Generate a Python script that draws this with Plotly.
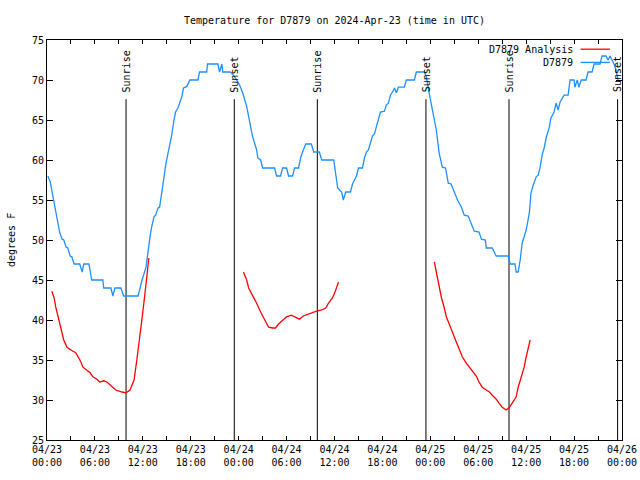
import pandas as pd
import plotly.graph_objects as go

# ---------------- data ----------------
base_time = "2024-04-23 00:00"

obs_hours = [0.1, 0.4, 0.6, 0.9, 1.1, 1.4, 1.6, 1.9, 2.1, 2.4, 2.6, 2.9, 3.1, 3.4, 4.1, 4.4, 4.6, 5.25,
             5.4, 5.6, 7.0, 7.1, 8.0, 8.25, 8.5, 9.25, 9.6, 11.4, 11.6, 11.9, 12.4, 12.6, 12.9, 13.1,
             13.4, 13.6, 13.9, 14.1, 14.4, 14.6, 14.9, 15.1, 15.4, 15.6, 15.9, 16.1, 16.4, 16.6, 16.9,
             17.1, 17.5, 17.9, 18.9, 19.1, 20.0, 20.1, 21.4, 21.6, 21.9, 22.0, 22.9, 23.1, 23.6, 24.1,
             24.5, 25.0, 25.4, 25.75, 26.25, 26.4, 26.75, 27.0, 28.5, 28.75, 29.25, 29.5, 30.0, 30.25,
             30.75, 31.0, 31.5, 31.75, 32.0, 32.4, 33.1, 33.4, 34.1, 34.4, 35.9, 36.1, 36.4, 36.9,
             37.1, 37.4, 38.0, 38.25, 38.75, 39.0, 39.5, 39.75, 40.0, 40.25, 40.5, 40.75, 41.0, 41.25,
             41.5, 41.75, 42.25, 42.5, 42.75, 43.0, 43.4, 43.5, 43.75, 43.9, 44.0, 44.75, 45.0, 46.0,
             46.25, 47.25, 47.5, 47.9, 48.25, 48.75, 49.1, 49.5, 49.9, 50.25, 50.6, 51.0, 51.4, 51.9,
             52.25, 52.75, 53.1, 53.5, 54.1, 54.4, 54.9, 55.0, 55.75, 56.25, 57.75, 58.0, 58.6, 58.75,
             59.0, 59.25, 59.5, 60.0, 60.4, 60.6, 60.9, 61.25, 61.5, 61.75, 62.0, 62.25, 62.5, 62.9,
             63.1, 63.5, 63.75, 64.0, 64.25, 64.75, 65.25, 65.5, 66.0, 66.1, 66.4, 66.6, 66.9, 67.5,
             67.75, 68.25, 68.5, 69.25, 69.5, 70.0, 70.25, 70.5, 70.75, 71.0, 71.25, 71.5]
obs_temps = [58, 57.3, 56.2, 54.6, 53.1, 51.9, 50.9, 50.1, 50, 49.1, 49, 48, 47.9, 47, 47, 46, 47, 47,
             46, 45, 45, 44, 44, 43, 44, 44, 43, 43, 43.75, 45, 46.6, 48.4, 50.4, 51.6,
             52.9, 53.1, 54, 54.1, 55.9, 57.5, 59.6, 60.5, 62, 63, 65, 66, 66.5, 67, 68,
             69, 69.2, 70, 70, 71, 71, 72, 72, 71, 72, 71, 71, 70.9, 70.25, 69.4,
             68.4, 66.7, 64.75, 62.9, 61.25, 60.25, 60, 59, 59, 58, 58, 59, 59, 58,
             58, 59, 59, 60.25, 61, 62, 62, 61, 61, 60, 60, 58.4, 56.5, 56,
             55, 56, 56, 57, 58, 59, 59, 60.25, 61, 61.25, 62.1, 63, 63.25, 64.1,
             65.25, 66, 66.1, 66.9, 67.1, 68.1, 68.75, 69, 68.4, 69, 69.1, 69.1, 70, 70,
             71, 71, 70.4, 68.1, 66.25, 63.75, 60.9, 59.1, 59, 57.1, 57, 55.9, 55, 54.1,
             53.1, 53, 52.1, 51.1, 51, 50.1, 50, 49, 49, 48, 48, 47, 47, 46,
             46, 47.5, 49.6, 51.25, 53.4, 55.9, 56.9, 57.9, 58.1, 59.1, 60.6, 61.5, 62.75, 64.1,
             65.25, 66, 67.1, 66.25, 67.25, 68.1, 68.1, 70, 70, 69.1, 70, 69.1, 70, 70,
             71, 71, 72, 72, 73, 73, 72.5, 73, 72.5, 72, 71.25, 70]

ana1_hours = [0.6, 0.9, 1.1, 1.4, 1.6, 1.9, 2.1, 2.5, 2.75, 3.25, 3.6, 3.9, 4.25, 4.5, 5.0, 5.4, 5.75,
              6.25, 6.6, 7.1, 7.5, 8.1, 8.6, 9.4, 9.9, 10.4, 10.9, 11.25, 11.6, 12.0, 12.4, 12.75]
ana1_temps = [43.6, 42.75, 41.6, 40.4, 39.4, 38.4, 37.5, 36.6, 36.4, 36.1, 35.9, 35.4, 34.75, 34.1,
              33.75, 33.4, 32.9, 32.6, 32.25, 32.4, 32.25, 31.75, 31.25, 31.0, 30.9, 31.25, 32.5, 35,
              37.6, 41, 44.5, 47.75]
ana2_hours = [24.6, 25.0, 25.25, 25.75, 26.25, 26.75, 27.25, 27.75, 28.25, 28.6, 29.0, 29.5, 30.0,
              30.6, 31.1, 31.6, 32.1, 32.75, 33.25, 33.75, 34.4, 34.9, 35.25, 35.75, 36.1, 36.5]
ana2_temps = [46, 45, 44, 43.1, 42.1, 41, 40, 39.1, 39, 39, 39.5, 40, 40.4, 40.6, 40.4, 40.1, 40.5,
              40.75, 40.9, 41.1, 41.25, 41.5, 42.1, 42.75, 43.6, 44.75]
ana3_hours = [48.5, 48.75, 49.0, 49.4, 49.75, 50.0, 50.4, 50.75, 51.25, 51.6, 52.0, 52.5, 52.9, 53.25,
              53.75, 54.1, 54.5, 55.0, 55.4, 55.75, 56.25, 56.6, 57.0, 57.5, 57.9, 58.25, 58.75, 59.0,
              59.4, 59.75, 60.0, 60.25, 60.5]
ana3_temps = [47.25, 45.9, 44.4, 42.75, 41.5, 40.4, 39.4, 38.4, 37.25, 36.4, 35.4, 34.6, 34.1, 33.75,
              33, 32.25, 31.6, 31.25, 31, 30.6, 30.1, 29.6, 29.1, 28.75, 29.1, 29.6, 30.4, 31.6,
              32.9, 34.1, 35.4, 36.6, 37.5]

sun_event_hours = [9.9, 23.45, 33.85, 47.45, 57.85, 71.45]
sun_event_labels = ["Sunrise", "Sunset", "Sunrise", "Sunset", "Sunrise", "Sunset"]

tick_hours = [0, 6, 12, 18, 24, 30, 36, 42, 48, 54, 60, 66, 72]
tick_labels = ["04/23<br>00:00", "04/23<br>06:00", "04/23<br>12:00", "04/23<br>18:00",
               "04/24<br>00:00", "04/24<br>06:00", "04/24<br>12:00", "04/24<br>18:00",
               "04/25<br>00:00", "04/25<br>06:00", "04/25<br>12:00", "04/25<br>18:00",
               "04/26<br>00:00"]

y_range = [25, 75]
series_names = ["D7879 Analysis", "D7879"]
series_colors = ["#ff0000", "#1e90ff"]

# ---------------- build ----------------
t0 = pd.Timestamp(base_time)


def to_time(hours):
    return [t0 + pd.Timedelta(hours=h) for h in hours]


ana_x, ana_y = [], []
for hs, ts in [(ana1_hours, ana1_temps), (ana2_hours, ana2_temps), (ana3_hours, ana3_temps)]:
    ana_x += to_time(hs) + [None]
    ana_y += list(ts) + [None]

FONT = "DejaVu Sans Mono"
FIG_W, FIG_H = 640, 480

fig = go.Figure()
fig.add_trace(go.Scatter(x=to_time(obs_hours), y=obs_temps, mode="lines", name=series_names[1],
                         line=dict(color=series_colors[1], width=1.3), showlegend=False))
fig.add_trace(go.Scatter(x=ana_x, y=ana_y, mode="lines", name=series_names[0], connectgaps=False,
                         line=dict(color=series_colors[0], width=1.3), showlegend=False))

shapes = []
annotations = []
line_top = 67.6
for h, lab in zip(sun_event_hours, sun_event_labels):
    xt = t0 + pd.Timedelta(hours=h)
    shapes.append(dict(type="line", xref="x", yref="y", x0=xt, x1=xt, y0=y_range[0], y1=line_top,
                       line=dict(color="black", width=1), layer="below"))
    annotations.append(dict(x=xt, y=68.2, xref="x", yref="y", text=lab, textangle=-90,
                            showarrow=False, xanchor="center", yanchor="bottom",
                            font=dict(family=FONT, size=10, color="black")))

# legend (gnuplot style: text then sample line on the right)
leg_y = [0.977, 0.944]
for name, col, ly in zip(series_names, series_colors, leg_y):
    annotations.append(dict(x=0.918, y=ly, xref="paper", yref="paper", text=name, showarrow=False,
                            xanchor="right", yanchor="middle",
                            font=dict(family=FONT, size=10, color="black")))
    shapes.append(dict(type="line", xref="paper", yref="paper", x0=0.928, x1=0.979, y0=ly, y1=ly,
                       line=dict(color=col, width=1.3)))

annotations.append(dict(x=-0.0626, y=0.5, xref="paper", yref="paper", text="degrees F",
                        textangle=-90, showarrow=False, xanchor="center", yanchor="middle",
                        font=dict(family=FONT, size=10, color="black")))

fig.update_layout(
    width=FIG_W, height=FIG_H, autosize=False,
    margin=dict(l=47, r=18, t=40, b=40, autoexpand=False),
    paper_bgcolor="white", plot_bgcolor="white",
    font=dict(family=FONT, size=10, color="black"),
    title=dict(text="Temperature for D7879 on 2024-Apr-23 (time in UTC)", x=0.5, xref="paper",
               y=1 - 20 / FIG_H, yref="container", xanchor="center", yanchor="middle",
               font=dict(family=FONT, size=10, color="black")),
    shapes=shapes, annotations=annotations, showlegend=False,
)
fig.update_xaxes(type="date", range=[t0, t0 + pd.Timedelta(hours=72)], automargin=False,
                 tickvals=to_time(tick_hours), ticktext=tick_labels,
                 ticks="inside", ticklen=4, tickcolor="black", showgrid=False, zeroline=False,
                 showline=True, linecolor="black", linewidth=1, mirror="ticks",
                 minor=dict(dtick=3 * 3600 * 1000, ticks="inside", ticklen=4, tickcolor="black",
                            showgrid=False),
                 tickfont=dict(family=FONT, size=10))
fig.update_yaxes(range=y_range, dtick=5, tick0=25, ticks="inside", ticklen=6, tickcolor="black",
                 automargin=False,
                 showgrid=False, zeroline=False, showline=True, linecolor="black", linewidth=1,
                 mirror="ticks", tickfont=dict(family=FONT, size=10))

fig.write_html(
    "out.html",
    config={"displayModeBar": False, "staticPlot": True},
    post_script="document.body.style.margin='0';document.body.style.padding='0';"
                "document.body.style.overflow='hidden';",
)
